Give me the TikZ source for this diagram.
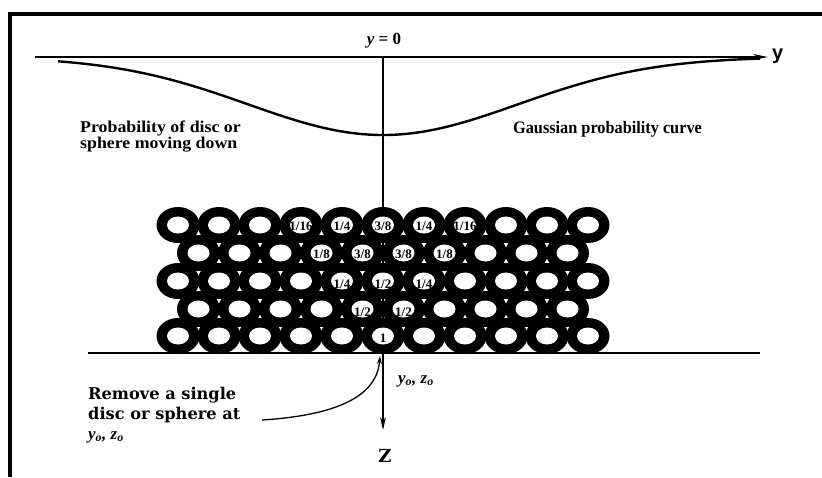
\documentclass[tikz,border=0pt]{standalone}
\usepackage{fontspec}
\setmainfont{Liberation Serif}
\newfontfamily\djs{DejaVu Serif}
\newfontfamily\lsans{Liberation Sans}
\usetikzlibrary{arrows.meta}
\begin{document}
\begin{tikzpicture}[x=1pt,y=-1pt,
  ring/.style={fill=black},
  hole/.style={fill=white},
  frac/.style={font=\bfseries\fontsize{13}{13}\selectfont, inner sep=0pt},
  lbl/.style={font=\bfseries\fontsize{16.5}{16.5}\selectfont, anchor=base west, inner sep=0pt},
  rlbl/.style={font=\djs\bfseries\fontsize{16.2}{16.2}\selectfont, anchor=base west, inner sep=0pt},
  coordlbl/.style={font=\bfseries\itshape\fontsize{17}{17}\selectfont, anchor=base west, inner sep=0pt}]
\useasboundingbox (0,0) rectangle (822,477);
\fill[white] (0,0) rectangle (822,477);
% frame
\draw[line width=3.5pt] (10,477) -- (10,14) -- (822,14);
% coordinates
\coordinate (yL) at (35,57);
\coordinate (yR) at (768,57);
\coordinate (top) at (383,57);
\coordinate (zend) at (383,430);
\coordinate (bL) at (88,353);
\coordinate (bR) at (760,353);
\coordinate (cstart) at (262,420);
\coordinate (cend) at (380,356);
% vertical axis (behind the rings)
\draw[line width=1.6pt, -{Stealth[length=13pt,width=6pt]}] (top) -- (zend);
% y axis
\draw[line width=2pt, -{Stealth[length=15pt,width=6pt]}] (yL) -- (yR);
% gaussian curve
\draw[line width=2.4pt, line join=round, domain=58:760, samples=160, smooth]
  plot (\x, {57+78*exp(-0.5*((\x-383)/135)^2)});
% rings
\foreach \yy/\kmax/\off in {225/5/0,253/4/20.5,281/5/0,309/4/20.5,336/5/0}{
  \foreach \k in {-5,...,\kmax}{
    \fill[ring] (383+41*\k+\off,\yy) ellipse [x radius=21.5pt, y radius=18pt];
  }
}
\foreach \yy/\kmax/\off in {225/5/0,253/4/20.5,281/5/0,309/4/20.5,336/5/0}{
  \foreach \k in {-5,...,\kmax}{
    \fill[hole] (383+41*\k+\off,\yy) ellipse [x radius=11pt, y radius=8.5pt];
  }
}
% fractions
\node[frac] (a1) at (301,226) {1/16};
\node[frac] (a2) at (342,226) {1/4};
\node[frac] (a3) at (383,226) {3/8};
\node[frac] (a4) at (424,226) {1/4};
\node[frac] (a5) at (465,226) {1/16};
\node[frac] (b1) at (321.5,254) {1/8};
\node[frac] (b2) at (362.5,254) {3/8};
\node[frac] (b3) at (403.5,254) {3/8};
\node[frac] (b4) at (444.5,254) {1/8};
\node[frac] (c1) at (342,284) {1/4};
\node[frac] (c2) at (383,284) {1/2};
\node[frac] (c3) at (424,284) {1/4};
\node[frac] (d1) at (362.5,312) {1/2};
\node[frac] (d2) at (403.5,312) {1/2};
\node[frac] (e1) at (383,338) {1};
% baseline
\draw[line width=2.5pt] (bL) -- (bR);
% curved arrow
\draw[line width=1.3pt, -{Stealth[length=8pt,width=5pt]}] (cstart) .. controls (340,415) and (377,395) .. (cend);
% labels
\node[font=\bfseries\fontsize{17}{17}\selectfont, anchor=base, inner sep=0pt] (y0) at (384,44) {\itshape y\upshape{} = 0};
\node[font=\lsans\bfseries\fontsize{20}{20}\selectfont, anchor=base west, inner sep=0pt] (ylab) at (772,59) {y};
\node[lbl, xscale=1.08] (p1) at (80,132) {Probability of disc or};
\node[lbl, xscale=1.08] (p2) at (80,148) {sphere moving down};
\node[lbl, font=\bfseries\fontsize{17.5}{17.5}\selectfont, xscale=0.93] (g1) at (513,133) {Gaussian probability curve};
\node[rlbl] (r1) at (88,399) {Remove a single};
\node[rlbl] (r2) at (88,419) {disc or sphere at};
\node[coordlbl] (r3) at (88,439) {y\textsubscript{o}, z\textsubscript{o}};
\node[coordlbl] (yz) at (398,383) {y\textsubscript{o}, z\textsubscript{o}};
\node[font=\djs\bfseries\fontsize{18}{18}\selectfont, anchor=base, inner sep=0pt] (zlab) at (385,462) {Z};
\end{tikzpicture}
\end{document}
